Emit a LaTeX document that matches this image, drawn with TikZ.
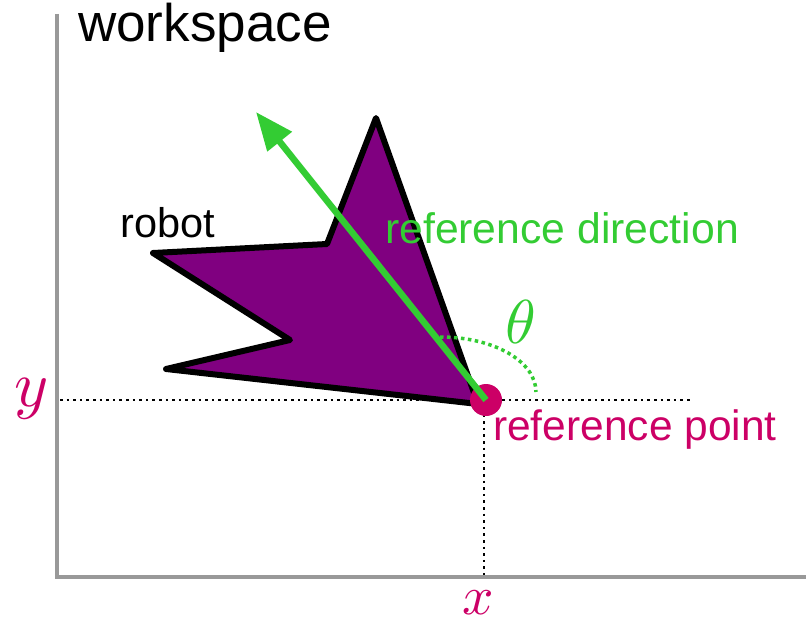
\documentclass[tikz,border=0pt]{standalone}
\usepackage{fontspec}
\setmainfont{Liberation Sans}
\usetikzlibrary{arrows.meta}
\definecolor{robotpurple}{HTML}{800080}
\definecolor{refgreen}{HTML}{33CC33}
\definecolor{refmag}{HTML}{CC0066}
\definecolor{axisgray}{HTML}{999999}
\begin{document}
\begin{tikzpicture}[x=1pt,y=-1pt,
  axis/.style={draw=axisgray,line width=4pt},
  guide/.style={draw=black,line width=2.6pt,dash pattern=on 2.6pt off 4pt},
  lbl/.style={inner sep=0pt,anchor=base west},
  mathlbl/.style={inner sep=0pt,anchor=base west,text=refmag}]
\useasboundingbox (0,0) rectangle (806,626);
% axes
\coordinate (org) at (57,577);
\coordinate (ytop) at (57,14);
\coordinate (xend) at (806,577);
\draw[axis] (ytop) -- (org) -- (xend);
% guides
\coordinate (rp) at (486,400);
\coordinate (gl) at (60,400);
\coordinate (gr) at (692,400);
\coordinate (gb) at (484,575);
\coordinate (gt) at (484,408);
\draw[guide] (gl) -- (gr);
\draw[guide] (gt) -- (gb);
% robot
\draw[fill=robotpurple,line width=6pt,line join=round]
  (376,118) -- (478,404) -- (166,369) -- (290,340) -- (153,253) -- (327,244) -- cycle;
% theta arc
\coordinate (a1) at (440,337);
\coordinate (a2) at (536,392);
\draw[refgreen,line width=3.5pt,dash pattern=on 3.5pt off 3.5pt] (a1) .. controls (495,337) and (536,362) .. (a2);
% reference point
\node[circle,fill=refmag,minimum size=32pt,inner sep=0pt] (pt) at (rp) {};
% direction arrow
\coordinate (tip) at (256,112);
\draw[refgreen,line width=6.5pt,-{Triangle[length=38pt,width=30pt]}] (pt.center) -- (tip);
% labels
\node[lbl,font=\fontsize{53}{60}\selectfont] (ws) at (78,42) {workspace};
\node[lbl,font=\fontsize{41.5}{48}\selectfont] (rob) at (120,237) {robot};
\node[lbl,font=\fontsize{42.7}{50}\selectfont,text=refgreen] (rd) at (385,243) {reference direction};
\node[lbl,font=\fontsize{42.5}{50}\selectfont,text=refmag] (rpt) at (493,440) {reference point};
\node[inner sep=0pt,anchor=base west,text=refgreen] (th) at (505,343) {\scalebox{6.2}{$\theta$}};
\node[mathlbl] (yl) at (14,406) {\scalebox{6.5}{$y$}};
\node[mathlbl] (xl) at (462,614) {\scalebox{5.5}{$x$}};
\end{tikzpicture}
\end{document}
